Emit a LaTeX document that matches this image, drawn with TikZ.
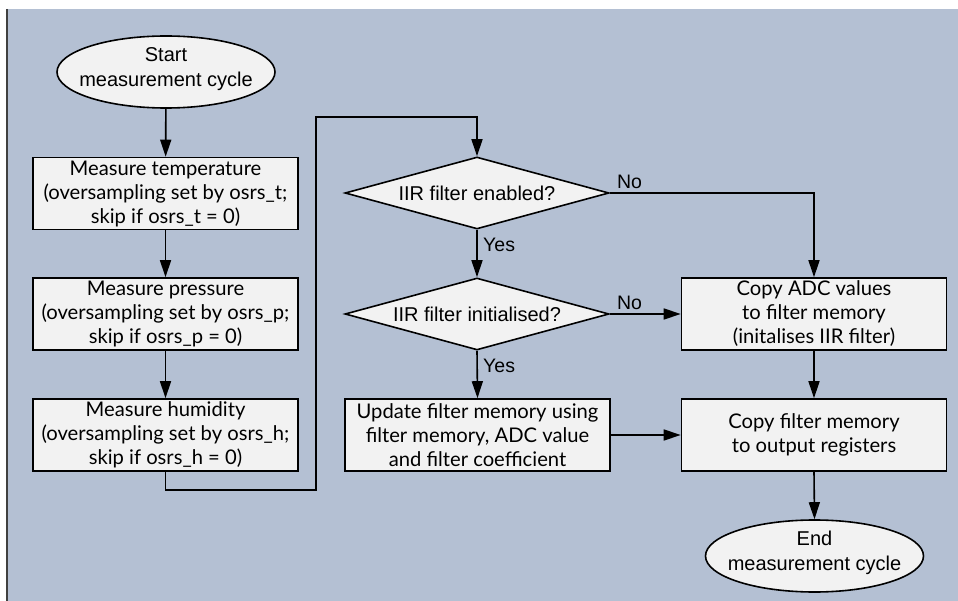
\documentclass[tikz,border=0pt]{standalone}
\usepackage{fontspec}
\setmainfont{Liberation Sans}
\newfontfamily\boxfont{Lato}
\usetikzlibrary{shapes.geometric,arrows.meta}
\definecolor{bg}{HTML}{B4C0D3}
\definecolor{nodefill}{HTML}{F2F2F2}
\begin{document}
\begin{tikzpicture}[x=1pt,y=-1pt,
  proc/.style={draw, line width=1.6pt, fill=nodefill, rectangle, minimum width=265pt, minimum height=72pt, inner sep=0pt, font=\boxfont\fontsize{20.2}{24}\selectfont, align=center},
  term/.style={draw, ellipse, line width=1.6pt, fill=nodefill, minimum width=218pt, minimum height=72pt, inner sep=0pt},
  dec/.style={draw, diamond, line width=1.6pt, fill=nodefill, minimum width=264pt, minimum height=72pt, inner sep=0pt},
  txt/.style={font=\fontsize{20}{25}\selectfont, align=center, inner sep=0pt},
  lbl/.style={font=\fontsize{19.5}{22}\selectfont, inner sep=0pt},
  arr/.style={line width=1.6pt, -{Triangle[width=11pt,length=17pt]}},
  plain/.style={line width=1.6pt}]
\useasboundingbox (0,0) rectangle (958,601);
\fill[bg] (8,9) rectangle (958,601);
\draw[line width=1.6pt, black!75] (7,9) -- (7,601);

% terminals
\node[term] (start) at (166,72) {};
\node[txt] (startt) at (166,69) {Start\\measurement cycle};
\node[term] (end) at (814.5,556) {};
\node[txt] (endt) at (814.5,553) {End\\measurement cycle};

% left column
\node[proc] (m1) at (165.5,193.5) {Measure temperature\\(oversampling set by osrs\_t;\\skip if osrs\_t = 0)};
\node[proc] (m2) at (165.5,314) {Measure pressure\\(oversampling set by osrs\_p;\\skip if osrs\_p = 0)};
\node[proc] (m3) at (165.5,435) {Measure humidity\\(oversampling set by osrs\_h;\\skip if osrs\_h = 0)};

% decisions
\node[dec] (d1) at (477,193) {};
\node[txt] (d1t) at (477,193) {IIR filter enabled?};
\node[dec] (d2) at (477,314) {};
\node[txt] (d2t) at (477,314) {IIR filter initialised?};

% other processes
\node[proc] (upd) at (477.5,435) {Update filter memory using\\filter memory, ADC value\\and filter coefficient};
\node[proc] (adc) at (814,314) {Copy ADC values\\to filter memory\\(initalises IIR filter)};
\node[proc] (cpy) at (814,435) {Copy filter memory\\to output registers};

% loop coordinates
\coordinate (lb) at (165.5,490);
\coordinate (lt) at (316,117);

% connectors
\draw[arr] (start) -- (m1);
\draw[arr] (m1) -- (m2);
\draw[arr] (m2) -- (m3);
\draw[arr] (m3.south) -- (lb) -| (lt) -| (d1.north);
\draw[arr] (d1.south) -- (d2.north);
\draw[arr] (d2.south) -- (upd.north);
\draw[arr] (d1.east) -| (adc.north);
\draw[arr] (d2.east) -- (adc.west);
\draw[arr] (adc.south) -- (cpy.north);
\draw[arr] (upd.east) -- (upd.east -| cpy.west);
\draw[arr] (cpy.south) -- (end.north);

% labels
\node[lbl, anchor=base west] (y1) at ([xshift=6pt,yshift=-22pt]d1.south) {Yes};
\node[lbl, anchor=base west] (y2) at ([xshift=6pt,yshift=-22pt]d2.south) {Yes};
\node[lbl, anchor=base west] (n1) at ([xshift=7pt,yshift=4pt]d1.east) {No};
\node[lbl, anchor=base west] (n2) at ([xshift=7pt,yshift=4pt]d2.east) {No};
\end{tikzpicture}
\end{document}
